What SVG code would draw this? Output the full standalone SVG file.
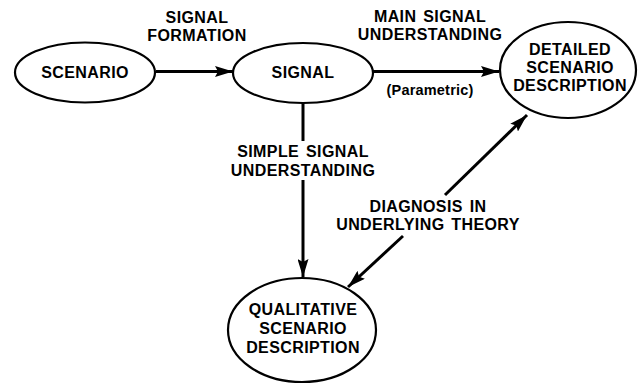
<svg xmlns="http://www.w3.org/2000/svg" width="639" height="384" viewBox="0 0 639 384">
<defs>
<marker id="ah" viewBox="0 0 18 11" refX="18" refY="5.5" markerWidth="18" markerHeight="11" markerUnits="userSpaceOnUse" orient="auto-start-reverse">
<path d="M0,0 L18,5.5 L0,11 L3,5.5 Z" fill="#000"/>
</marker>
<style>
.n{fill:#fff;stroke:#000;stroke-width:2.2}
.t{font-family:"Liberation Sans",Arial,sans-serif;font-weight:bold;font-size:16px;fill:#000;text-anchor:middle;letter-spacing:0.4px;word-spacing:2px}
.s{font-size:14.5px;letter-spacing:0.2px}
.c{stroke:#000;stroke-width:3;fill:none}
</style>
</defs>
<rect width="639" height="384" fill="#fff"/>
<g id="connectors">
<line class="c" x1="156" y1="71.5" x2="233" y2="71.5" marker-end="url(#ah)"/>
<line class="c" x1="373" y1="71.5" x2="499" y2="71.5" marker-end="url(#ah)"/>
<line class="c" x1="303" y1="103" x2="303" y2="141"/>
<line class="c" x1="303" y1="180" x2="303" y2="277" marker-end="url(#ah)"/>
<line class="c" x1="445" y1="195" x2="527" y2="115" marker-end="url(#ah)"/>
<line class="c" x1="403" y1="236" x2="348" y2="287" marker-end="url(#ah)"/>
<text class="t" x="197" y="23">SIGNAL</text>
<text class="t" x="197" y="41">FORMATION</text>
<text class="t" x="430" y="22">MAIN SIGNAL</text>
<text class="t" x="430" y="40">UNDERSTANDING</text>
<text class="t s" x="430" y="95">(Parametric)</text>
<text class="t" x="303" y="157">SIMPLE SIGNAL</text>
<text class="t" x="303" y="176">UNDERSTANDING</text>
<text class="t" x="428" y="212">DIAGNOSIS IN</text>
<text class="t" x="428" y="230">UNDERLYING THEORY</text>
</g>
<g id="scenario">
<ellipse class="n" cx="85" cy="72.5" rx="70" ry="30"/>
<text class="t" x="85" y="78">SCENARIO</text>
</g>
<g id="signal">
<ellipse class="n" cx="303" cy="73" rx="70" ry="30"/>
<text class="t" x="303" y="78">SIGNAL</text>
</g>
<g id="detailed">
<ellipse class="n" cx="568" cy="70" rx="68" ry="48"/>
<text class="t" x="570" y="55">DETAILED</text>
<text class="t" x="570" y="73">SCENARIO</text>
<text class="t" x="570" y="91">DESCRIPTION</text>
</g>
<g id="qualitative">
<ellipse class="n" cx="302" cy="330" rx="74" ry="52"/>
<text class="t" x="303" y="315">QUALITATIVE</text>
<text class="t" x="303" y="334">SCENARIO</text>
<text class="t" x="303" y="353">DESCRIPTION</text>
</g>
</svg>
